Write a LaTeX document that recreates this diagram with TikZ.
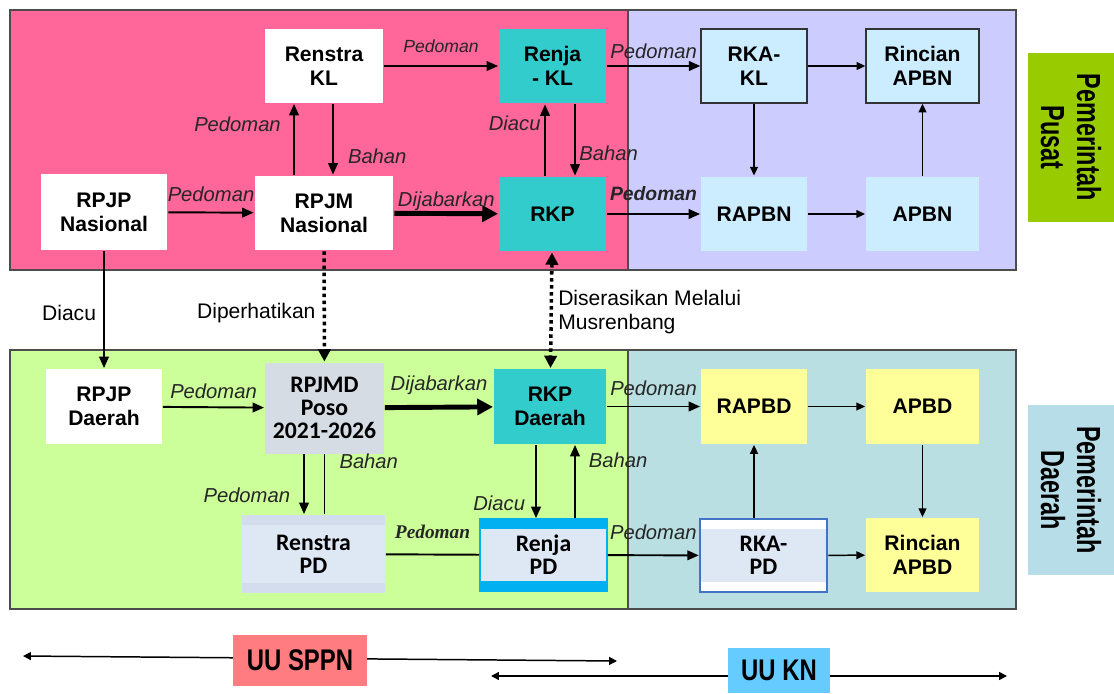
\documentclass[tikz,border=0pt]{standalone}
\usepackage{fontspec}
\setmainfont{Liberation Sans}
\newfontfamily\calibrifont{Carlito}
\newfontfamily\seriffont{Liberation Serif}
\usetikzlibrary{arrows.meta, positioning}

\definecolor{pinkpanel}{HTML}{FF6699}
\definecolor{purplepanel}{HTML}{CCCCFF}
\definecolor{greenpanel}{HTML}{CCFF99}
\definecolor{tealpanel}{HTML}{B9DFE2}
\definecolor{tealbox}{HTML}{33CCCC}
\definecolor{skybox}{HTML}{CCECFF}
\definecolor{yellowbox}{HTML}{FFFF99}
\definecolor{graybox}{HTML}{D6DCE4}
\definecolor{palebox}{HTML}{DEE8F4}
\definecolor{paleband}{HTML}{D3DDEE}
\definecolor{cyanband}{HTML}{00B0F0}
\definecolor{rkablue}{HTML}{4472C4}
\definecolor{pusatgreen}{HTML}{99CC00}
\definecolor{daerahblue}{HTML}{B7DEE8}
\definecolor{sppnred}{HTML}{FF7C80}
\definecolor{knblue}{HTML}{66CCFF}

\newcommand{\narrowtext}[2][0.8]{\scalebox{#1}[1]{#2}}

\begin{document}
\begin{tikzpicture}[x=0.02cm,y=-0.02cm,line width=1.1pt,>={Triangle[length=6.5pt,width=5.5pt]}]
  \tikzstyle{box}=[rectangle,inner sep=0pt,align=center,font=\fontsize{12}{13.6}\selectfont\bfseries]
  \tikzstyle{calbox}=[box,font=\calibrifont\fontsize{13.5}{13.2}\selectfont\bfseries]
  \tikzstyle{lbl}=[font=\fontsize{11.5}{13}\selectfont\itshape,text=black!85,inner sep=2pt]
  \tikzstyle{plain}=[font=\fontsize{12}{13.2}\selectfont,inner sep=3pt]
  \tikzstyle{panel}=[draw=black!70,line width=0.9pt]
  \tikzstyle{thin}=[line width=0.85pt,>={Triangle[length=5pt,width=4.5pt]}]
  \tikzstyle{heavy}=[line width=2.8pt,>={Triangle[length=9pt,width=9pt]}]
  \tikzstyle{dots}=[line width=2pt,dash pattern=on 2pt off 2pt,>={Triangle[length=7pt,width=7pt]}]
  \tikzstyle{side}=[rectangle,inner sep=0pt,align=center,rotate=-90,font=\fontsize{19}{20.5}\selectfont\bfseries]
  \tikzstyle{law}=[rectangle,inner sep=0pt,font=\fontsize{17}{19}\selectfont\bfseries]
  \tikzstyle{bands}=[path picture={
      \fill[#1] (path picture bounding box.north west) rectangle ([yshift=-0.2cm]path picture bounding box.north east);
      \fill[#1] (path picture bounding box.south west) rectangle ([yshift=0.2cm]path picture bounding box.south east);}]

  \useasboundingbox (0,0) rectangle (1114,693);

  % panels
  \draw[panel,fill=pinkpanel]   (10,10)   rectangle (628,270);
  \draw[panel,fill=purplepanel] (628,10)  rectangle (1016,270);
  \draw[panel,fill=greenpanel]  (10,350)  rectangle (628,609);
  \draw[panel,fill=tealpanel]   (628,350) rectangle (1016,609);

  % pemerintah pusat
  \node[box,fill=white,minimum width=2.36cm,minimum height=1.48cm] (renstrakl) at (324,66) {Renstra\\KL};
  \node[box,fill=tealbox,minimum width=2.14cm,minimum height=1.5cm] (renjakl) at (552.5,66) {Renja\\- KL};
  \node[box,fill=skybox,draw=black!80,line width=0.8pt,minimum width=2.12cm,minimum height=1.48cm] (rkakl) at (754,66) {RKA-\\KL};
  \node[box,fill=skybox,draw=black!80,line width=0.8pt,minimum width=2.26cm,minimum height=1.48cm] (rincianapbn) at (922.5,66) {Rincian\\APBN};
  \node[box,fill=white,minimum width=2.54cm,minimum height=1.52cm] (rpjpn) at (104,212) {RPJP\\Nasional};
  \node[box,fill=white,minimum width=2.78cm,minimum height=1.5cm] (rpjmn) at (324,213) {RPJM\\Nasional};
  \node[box,fill=tealbox,minimum width=2.14cm,minimum height=1.5cm] (rkp) at (552.5,214) {RKP};
  \node[box,fill=skybox,minimum width=2.12cm,minimum height=1.5cm] (rapbn) at (754,214) {RAPBN};
  \node[box,fill=skybox,minimum width=2.26cm,minimum height=1.5cm] (apbn) at (922.5,214) {APBN};

  % pemerintah daerah
  \node[box,fill=white,minimum width=2.32cm,minimum height=1.5cm] (rpjpd) at (104,406.5) {RPJP\\Daerah};
  \node[calbox,fill=graybox,minimum width=2.38cm,minimum height=1.82cm] (rpjmd) at (324.5,408) {RPJMD\\Poso\\2021-2026};
  \node[box,fill=tealbox,minimum width=2.24cm,minimum height=1.5cm] (rkpd) at (550,406.5) {RKP\\Daerah};
  \node[box,fill=yellowbox,minimum width=2.12cm,minimum height=1.5cm] (rapbd) at (754,406.5) {RAPBD};
  \node[box,fill=yellowbox,minimum width=2.26cm,minimum height=1.5cm] (apbd) at (922.5,406.5) {APBD};
  \node[calbox,fill=palebox,bands=paleband,minimum width=2.86cm,minimum height=1.56cm] (renstrapd) at (313.5,554) {Renstra\\PD};
  \node[calbox,fill=palebox,draw=cyanband,line width=1pt,bands=cyanband,minimum width=2.54cm,minimum height=1.44cm] (renjapd) at (543.5,555) {Renja\\PD};
  \node[calbox,fill=palebox,draw=rkablue,line width=1.5pt,bands=white,minimum width=2.54cm,minimum height=1.46cm] (rkapd) at (763.5,555.5) {RKA-\\PD};
  \node[box,fill=yellowbox,minimum width=2.26cm,minimum height=1.48cm] (rincianapbd) at (922.5,555) {Rincian\\APBD};

  \node[side,fill=pusatgreen,minimum width=3.38cm,minimum height=1.72cm] (pusat) at (1071,137.5) {\narrowtext[0.7]{Pemerintah}\\\narrowtext[0.7]{Pusat}};
  \node[side,fill=daerahblue,minimum width=3.4cm,minimum height=1.72cm] (daerah) at (1071,490) {\narrowtext[0.7]{Pemerintah}\\\narrowtext[0.7]{Daerah}};

  % connectors, pusat
  \path[->]
  (renstrakl) edge node[lbl,above=5pt,font=\fontsize{10}{12}\selectfont\itshape] {Pedoman} (renjakl)
  ([xshift=-0.6cm]rpjmn.north) edge node[lbl,left=5pt,pos=0.71] {Pedoman} ([xshift=-0.6cm]renstrakl.south)
  ([xshift=0.18cm]renstrakl.south) edge node[lbl,right=6pt,pos=0.745] {Bahan} ([xshift=0.18cm]rpjmn.north)
  (rpjpn) edge node[lbl,above=3.7pt] {Pedoman} (rpjmn)
  (rpjmn) edge[heavy] node[lbl,above=-2pt] {Dijabarkan} (rkp)
  ([xshift=-0.15cm]rkp.north) edge node[lbl,left=0pt,pos=0.73] {Diacu} ([xshift=-0.15cm]renjakl.south)
  ([xshift=0.45cm]renjakl.south) edge node[lbl,right=0pt,pos=0.69] {Bahan} ([xshift=0.45cm]rkp.north)
  (renjakl) edge node[lbl,above=1.4pt] {Pedoman} (rkakl)
  (rkp) edge node[lbl,above=4.8pt,font=\fontsize{11}{13}\selectfont\bfseries\itshape] {Pedoman} (rapbn)
  (rkakl) edge[thin] (rincianapbn)
  (rkakl) edge[thin] (rapbn)
  (rapbn) edge[thin] (apbn)
  (apbn) edge[thin] (rincianapbn);

  % connectors, pusat ke daerah
  \path[->]
  (rpjpn) edge node[plain,left=1pt,pos=0.53] {Diacu} (rpjpd)
  (rpjmn) edge[dots] node[plain,left=1pt,pos=0.56] {Diperhatikan} (rpjmd)
  (rkp) edge[dots,<->] node[plain,right=0pt,pos=0.515,align=left] {Diserasikan Melalui\\Musrenbang} (rkpd);

  % connectors, daerah
  \path[->]
  (rpjpd) edge node[lbl,above=2.5pt] {Pedoman} (rpjmd)
  (rpjmd) edge[heavy] node[lbl,above=3.6pt] {Dijabarkan} (rkpd)
  ([xshift=-0.41cm]rpjmd.south) edge node[lbl,left=5.4pt,pos=0.69] {Pedoman} ([xshift=-0.41cm]rpjmd.south |- renstrapd.north)
  (rpjmd.south |- renstrapd.north) edge[-] node[lbl,right=6pt,pos=0.88] {Bahan} (rpjmd.south)
  (renstrapd) edge[-] node[lbl,above=6.5pt,font=\seriffont\fontsize{11}{13}\selectfont\bfseries\itshape] {Pedoman} (renjapd)
  ([xshift=-0.28cm]rkpd.south) edge node[lbl,left=3.7pt,pos=0.8] {Diacu} ([xshift=-0.28cm]rkpd.south |- renjapd.north)
  ([xshift=0.5cm]rkpd.south |- renjapd.north) edge node[lbl,right=5.4pt,pos=0.79] {Bahan} ([xshift=0.5cm]rkpd.south)
  (rkpd) edge node[lbl,above=3.7pt] {Pedoman} (rapbd)
  (renjapd) edge node[lbl,above=6.5pt] {Pedoman} (rkapd)
  (rapbd) edge[thin] (apbd)
  (apbd) edge[thin] (rincianapbd)
  (rapbd.south |- rkapd.north) edge[thin] (rapbd)
  (rkapd) edge[thin] (rincianapbd);

  % undang-undang
  \coordinate (sppnleft) at (23,656);
  \coordinate (sppnright) at (617,661);
  \coordinate (knleft) at (491,676);
  \coordinate (knright) at (1007,676);
  \draw[thin,<->,>={Triangle[length=4.5pt,width=4.5pt]}] (sppnleft) -- (sppnright);
  \draw[thin,<->,>={Triangle[length=4.5pt,width=4.5pt]}] (knleft) -- (knright);
  \node[law,fill=sppnred,minimum width=2.68cm,minimum height=1.02cm] (uusppn) at (300,660.5) {\narrowtext{UU SPPN}};
  \node[law,fill=knblue,minimum width=2.04cm,minimum height=0.9cm] (uukn) at (779,670.5) {\narrowtext{UU KN}};
\end{tikzpicture}
\end{document}
